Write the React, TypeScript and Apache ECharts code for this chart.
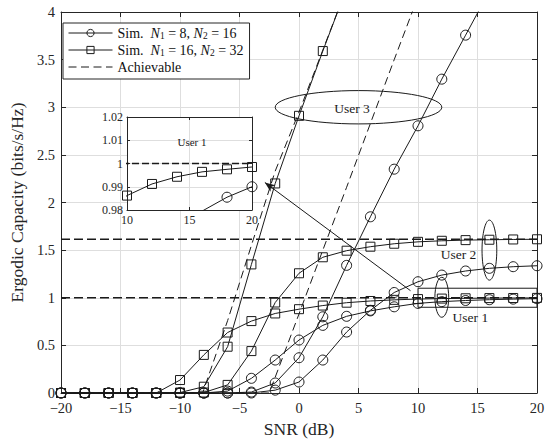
import React, { useEffect, useRef } from "react";
import * as echarts from "echarts";

// ---------------- data ----------------
const SNR_DB = [-20, -18, -16, -14, -12, -10, -8, -6, -4, -2, 0, 2, 4, 6, 8, 10, 12, 14, 16, 18, 20];

// Simulation, N1 = 8, N2 = 16 (circles)
const U1_N8 = [0, 0, 0, 0, 0, 0, 0, 0.02, 0.154, 0.346, 0.556, 0.71, 0.805, 0.862, 0.905, 0.941, 0.959, 0.971, 0.9795, 0.9855, 0.99];
const U2_N8 = [0, 0, 0, 0, 0, 0, 0, 0, 0, 0.03, 0.115, 0.346, 0.64, 0.868, 1.055, 1.168, 1.238, 1.281, 1.309, 1.326, 1.336];
const U3_N8 = [0, 0, 0, 0, 0, 0, 0, 0, 0.01, 0.105, 0.37, 0.8, 1.34, 1.85, 2.35, 2.805, 3.295, 3.757, 4.22, null, null];

// Simulation, N1 = 16, N2 = 32 (squares)
const U1_N16 = [0, 0, 0, 0, 0, 0.136, 0.4, 0.635, 0.755, 0.835, 0.88, 0.918, 0.948, 0.966, 0.978, 0.9862, 0.9912, 0.9943, 0.9964, 0.9975, 0.9985];
const U2_N16 = [0, 0, 0, 0, 0, 0, 0.005, 0.085, 0.44, 0.95, 1.257, 1.425, 1.494, 1.536, 1.567, 1.587, 1.598, 1.605, 1.609, 1.612, 1.614];
const U3_N16 = [0, 0, 0, 0, 0, 0.005, 0.066, 0.486, 1.35, 2.2, 2.91, 3.59, 4.25, null, null, null, null, null, null, null, null];

// Achievable
const ACH_FLAT_SNR = [-20, 20];
const ACH_U1 = [1, 1];
const ACH_U2 = [1.614, 1.614];
const ACH_U3_N16_SNR = [-20, -8.1, -6, -4, -2, 0, 2, 4];
const ACH_U3_N16 = [0, 0, 0.76, 1.55, 2.33, 2.95, 3.6, 4.25];
const ACH_U3_N8_SNR = [-20, -2.5, 0, 2, 4, 6, 8, 10];
const ACH_U3_N8 = [0, 0, 0.83, 1.5, 2.16, 2.83, 3.5, 4.16];

const NAME_N8 = "Sim. N1 = 8, N2 = 16";
const NAME_N16 = "Sim. N1 = 16, N2 = 32";
const NAME_ACH = "Achievable";

// ---------------- annotations (data coordinates) ----------------
const ELLIPSES = [
  { center: [5, 3.0], radius: [7.0, 0.175] },
  { center: [16, 1.5], radius: [0.62, 0.315] },
  { center: [12, 1.005], radius: [0.58, 0.21] },
];
const BOX_USER1 = [[10, 1.1], [20, 0.9]];
const MAIN_LABELS = [
  { text: "User 3", at: [4.45, 2.99] },
  { text: "User 2", at: [13.4, 1.45] },
  { text: "User 1", at: [14.4, 0.795] },
];
const INSET_LABEL = { text: "User 1", at: [15.2, 1.0093] };
const ARROW = [[9.37, 1.074], [-2.87, 2.21]];

// ---------------- styles ----------------
const FONT = "Liberation Serif, Times New Roman, serif";
const INK = "#1a1a1a";
const AX = "#262626";
const GRID_C = "#dedede";

const pairs = (xs: number[], ys: (number | null)[]) => xs.map((x, i) => [x, ys[i]]);
const minusFmt = (v: number) => (v < 0 ? "\u2212" + Math.abs(v) : String(v));

function sim(name: string, ys: (number | null)[], symbol: string, size: number, extra: any = {}) {
  return {
    type: "line",
    name,
    data: pairs(SNR_DB, ys),
    symbol,
    symbolSize: size,
    showAllSymbol: true,
    clip: true,
    lineStyle: { color: INK, width: 1 },
    itemStyle: { color: "rgba(255,255,255,0)", borderColor: INK, borderWidth: 1 },
    emphasis: { disabled: true },
    ...extra,
  };
}

function ach(name: string, xs: number[], ys: number[], width: number, dash: number[]) {
  return {
    type: "line",
    name,
    data: pairs(xs, ys),
    symbol: "none",
    clip: true,
    lineStyle: { color: INK, width, type: dash },
    itemStyle: { color: "rgba(255,255,255,0)", borderColor: "rgba(255,255,255,0)", borderWidth: 0 },
    emphasis: { disabled: true },
  };
}

const tickLabel = (size: number, margin: number, fmt?: (v: number) => string) => ({
  fontSize: size,
  color: AX,
  fontFamily: FONT,
  margin,
  ...(fmt ? { formatter: fmt } : {}),
});

function frameAxis(min: number, max: number, interval: number, pos: string, tickLen: number, label: any, split: boolean, extra: any = {}) {
  return {
    type: "value",
    min,
    max,
    interval,
    position: pos,
    axisLine: { show: true, onZero: false, lineStyle: { color: AX, width: 1 } },
    axisTick: { show: true, inside: true, length: tickLen, lineStyle: { color: AX } },
    axisLabel: label ? label : { show: false },
    splitLine: { show: split, lineStyle: { color: GRID_C, width: 1 } },
    ...extra,
  };
}

export default function App() {
  const mainRef = useRef<HTMLDivElement>(null);
  const insetRef = useRef<HTMLDivElement>(null);
  useEffect(() => {
    if (!mainRef.current || !insetRef.current) return;
    const chart = echarts.init(mainRef.current, undefined, { renderer: "svg" });
    const inset = echarts.init(insetRef.current, undefined, { renderer: "svg" });
    const legendText: Record<string, string> = {
      [NAME_N8]: "Sim.  {i|N}{s|1} = 8, {i|N}{s|2} = 16",
      [NAME_N16]: "Sim.  {i|N}{s|1} = 16, {i|N}{s|2} = 32",
      [NAME_ACH]: "Achievable",
    };
    const option: any = {
      animation: false,
      backgroundColor: "#fff",
      textStyle: { fontFamily: FONT },
      grid: { left: 52, right: 13, top: 12, bottom: 51, containLabel: false },
      legend: {
        data: [NAME_N8, NAME_N16, NAME_ACH],
        orient: "vertical",
        left: 63,
        top: 23,
        padding: [2, 6, 4, 5],
        itemGap: 1,
        itemWidth: 44,
        itemHeight: 9,
        backgroundColor: "#fff",
        borderColor: AX,
        borderWidth: 1,
        borderRadius: 0,
        selectedMode: false,
        lineStyle: { width: 1 },
        itemStyle: { borderWidth: 1 },
        formatter: (name: string) => legendText[name] ?? name,
        textStyle: {
          fontFamily: FONT,
          fontSize: 14,
          lineHeight: 16,
          color: "#111",
          rich: {
            i: { fontFamily: FONT, fontSize: 14, lineHeight: 16, fontStyle: "italic", color: "#111" },
            s: { fontFamily: FONT, fontSize: 9.5, lineHeight: 9, color: "#111", verticalAlign: "bottom" },
          },
        },
      },
      xAxis: [
        frameAxis(-20, 20, 5, "bottom", 5, tickLabel(14.5, 7, minusFmt), true, {
          name: "SNR (dB)",
          nameLocation: "middle",
          nameGap: 27,
          nameTextStyle: { fontSize: 17.5, color: AX, fontFamily: FONT },
        }),
        frameAxis(-20, 20, 5, "top", 5, null, false),
      ],
      yAxis: [
        frameAxis(0, 4, 0.5, "left", 5, tickLabel(14.5, 6), true, {
          name: "Ergodic Capacity (bits/s/Hz)",
          nameLocation: "middle",
          nameGap: 28,
          nameTextStyle: { fontSize: 17.5, color: AX, fontFamily: FONT },
        }),
        frameAxis(0, 4, 0.5, "right", 5, null, false),
      ],
      series: [
        sim(NAME_N8, U1_N8, "circle", 10),
        sim(NAME_N16, U1_N16, "rect", 9, {
          markLine: {
            silent: true,
            symbol: ["none", "arrow"],
            symbolSize: [6, 10],
            label: { show: false },
            lineStyle: { color: INK, width: 1, type: "solid" },
            emphasis: { disabled: true },
            data: [[{ coord: ARROW[0] }, { coord: ARROW[1] }]],
          },
        }),
        ach(NAME_ACH, ACH_U3_N16_SNR, ACH_U3_N16, 1, [8, 4.5]),
        sim(NAME_N8, U2_N8, "circle", 10),
        sim(NAME_N8, U3_N8, "circle", 10),
        sim(NAME_N16, U2_N16, "rect", 9),
        sim(NAME_N16, U3_N16, "rect", 9),
        ach(NAME_ACH, ACH_U3_N8_SNR, ACH_U3_N8, 1, [8, 4.5]),
        ach(NAME_ACH, ACH_FLAT_SNR, ACH_U1, 1.5, [9, 4]),
        ach(NAME_ACH, ACH_FLAT_SNR, ACH_U2, 1.5, [9, 4]),
      ],
    };
    chart.setOption(option);

    const toPx = (p: number[]) => chart.convertToPixel({ gridIndex: 0 } as any, p) as number[];
    const elements: any[] = [];
    ELLIPSES.forEach((e) => {
      const c = toPx(e.center);
      const ex = toPx([e.center[0] + e.radius[0], e.center[1]]);
      const ey = toPx([e.center[0], e.center[1] + e.radius[1]]);
      elements.push({
        type: "ellipse",
        silent: true,
        z: 20,
        shape: { cx: c[0], cy: c[1], rx: Math.abs(ex[0] - c[0]), ry: Math.abs(ey[1] - c[1]) },
        style: { fill: "none", stroke: INK, lineWidth: 1 },
      });
    });
    const b0 = toPx(BOX_USER1[0]);
    const b1 = toPx(BOX_USER1[1]);
    elements.push({
      type: "rect",
      silent: true,
      z: 20,
      shape: { x: b0[0], y: b0[1], width: b1[0] - b0[0], height: b1[1] - b0[1] },
      style: { fill: "none", stroke: INK, lineWidth: 1 },
    });
    MAIN_LABELS.forEach((l) => {
      const p = toPx(l.at);
      elements.push({
        type: "text",
        silent: true,
        z: 21,
        x: p[0],
        y: p[1],
        style: { text: l.text, fill: INK, font: `13.5px ${FONT}`, align: "center", verticalAlign: "middle" },
      });
    });
    chart.setOption({ graphic: { elements } });

    // ---- inset: zoom on User 1, 10-20 dB ----
    const insetOption: any = {
      animation: false,
      backgroundColor: "rgba(0,0,0,0)",
      textStyle: { fontFamily: FONT },
      grid: { left: 37, top: 12, width: 125, height: 93, show: true, backgroundColor: "#fff", borderWidth: 0 },
      xAxis: [
        frameAxis(10, 20, 5, "bottom", 3, tickLabel(12, 4), true),
        frameAxis(10, 20, 5, "top", 3, null, false),
      ],
      yAxis: [
        frameAxis(0.98, 1.02, 0.01, "left", 3, tickLabel(12, 4), true),
        frameAxis(0.98, 1.02, 0.01, "right", 3, null, false),
      ],
      series: [
        sim("inset N16", U1_N16, "rect", 9),
        sim("inset N8", U1_N8, "circle", 10),
        ach("inset ach", ACH_FLAT_SNR, ACH_U1, 1.5, [7, 3]),
      ],
    };
    inset.setOption(insetOption);
    const ip = inset.convertToPixel({ gridIndex: 0 } as any, INSET_LABEL.at) as number[];
    inset.setOption({
      graphic: {
        elements: [
          {
            type: "text",
            silent: true,
            z: 21,
            x: ip[0],
            y: ip[1],
            style: { text: INSET_LABEL.text, fill: INK, font: `11px ${FONT}`, align: "center", verticalAlign: "middle" },
          },
        ],
      },
    });

    return () => {
      chart.dispose();
      inset.dispose();
    };
  }, []);
  return (
    <div style={{ position: "absolute", left: 0, top: 0, width: 550, height: 444 }}>
      <div ref={mainRef} style={{ position: "absolute", left: 0, top: 0, width: 550, height: 444 }} />
      <div ref={insetRef} style={{ position: "absolute", left: 90, top: 105, width: 175, height: 130 }} />
    </div>
  );
}
